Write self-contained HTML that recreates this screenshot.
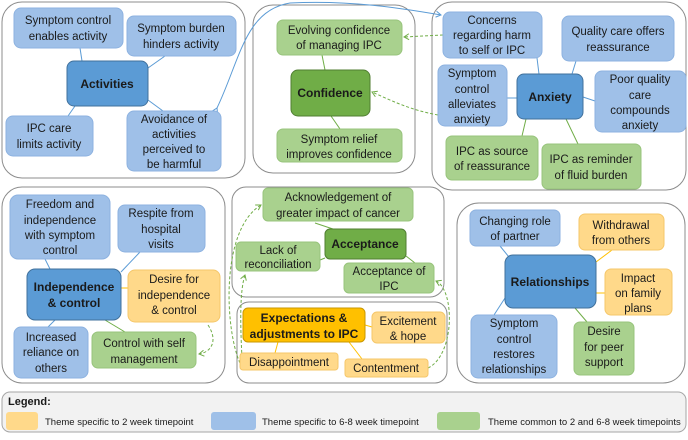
<!DOCTYPE html>
<html><head><meta charset="utf-8"><style>
body{margin:0;background:#fff;}
svg text{font-family:"Liberation Sans",sans-serif;font-size:11.5px;fill:#1a1a1a;text-anchor:middle;}
.b{fill:#9fc0e8;stroke:#8db2e0;stroke-width:1}
.bd{fill:#5b9bd5;stroke:#41719c;stroke-width:1}
.g{fill:#a9d18e;stroke:#98c47c;stroke-width:1}
.gd{fill:#70ad47;stroke:#507e32;stroke-width:1}
.o{fill:#ffd98a;stroke:#f5c76a;stroke-width:1}
.od{fill:#ffc000;stroke:#c99700;stroke-width:1}
.c{fill:none;stroke:#8c8c8c;stroke-width:1}
.bold{font-weight:bold;font-size:12px}
</style></head><body>
<svg width="688" height="435" xmlns="http://www.w3.org/2000/svg">
<defs>
<marker id="ag" markerWidth="8" markerHeight="8" refX="6" refY="4" orient="auto"><path d="M1,1 L6,4 L1,7" fill="none" stroke="#70ad47" stroke-width="1"/></marker>
<marker id="ab" markerWidth="8" markerHeight="8" refX="6" refY="4" orient="auto"><path d="M1,1 L6,4 L1,7" fill="none" stroke="#5b9bd5" stroke-width="1"/></marker>
</defs>
<!-- containers -->
<rect class="c" x="2" y="2" width="243" height="176" rx="20"/>
<rect class="c" x="253" y="5" width="162" height="168" rx="20"/>
<rect class="c" x="432" y="2" width="254" height="188" rx="20"/>
<rect class="c" x="2" y="187" width="223" height="196" rx="20"/>
<rect class="c" x="232" y="187" width="212" height="110" rx="14"/>
<rect class="c" x="237" y="302" width="210" height="81" rx="12"/>
<rect class="c" x="457" y="203" width="228" height="180" rx="22"/>
<rect x="2" y="392" width="684" height="40" rx="8" fill="#f2f2f2" stroke="#a6a6a6"/>
<!-- connectors -->
<g stroke-width="1">
<line x1="80" y1="48" x2="82" y2="61" stroke="#5b9bd5"/>
<line x1="148" y1="68" x2="165" y2="56" stroke="#5b9bd5"/>
<line x1="75" y1="106" x2="68" y2="116" stroke="#5b9bd5"/>
<line x1="148" y1="100" x2="163" y2="111" stroke="#5b9bd5"/>
<line x1="322" y1="55" x2="325" y2="70" stroke="#70ad47"/>
<line x1="331" y1="116" x2="340" y2="129" stroke="#70ad47"/>
<line x1="537" y1="58" x2="539" y2="74" stroke="#5b9bd5"/>
<line x1="576" y1="61" x2="572" y2="74" stroke="#5b9bd5"/>
<line x1="507" y1="98" x2="517" y2="98" stroke="#5b9bd5"/>
<line x1="583" y1="97" x2="595" y2="101" stroke="#5b9bd5"/>
<line x1="526" y1="119" x2="522" y2="136" stroke="#70ad47"/>
<line x1="566" y1="119" x2="578" y2="144" stroke="#70ad47"/>
<line x1="45" y1="259" x2="50" y2="269" stroke="#5b9bd5"/>
<line x1="121" y1="272" x2="140" y2="252" stroke="#5b9bd5"/>
<line x1="121" y1="288" x2="128" y2="288" stroke="#ffc000"/>
<line x1="55" y1="320" x2="48" y2="327" stroke="#5b9bd5"/>
<line x1="105" y1="320" x2="125" y2="332" stroke="#70ad47"/>
<line x1="315" y1="223" x2="333" y2="229" stroke="#70ad47"/>
<line x1="320" y1="260" x2="325" y2="258" stroke="#70ad47"/>
<line x1="406" y1="256" x2="415" y2="263" stroke="#70ad47"/>
<line x1="278" y1="342" x2="275" y2="353" stroke="#ffc000"/>
<line x1="365" y1="325" x2="372" y2="327" stroke="#ffc000"/>
<line x1="349" y1="342" x2="362" y2="359" stroke="#ffc000"/>
<line x1="500" y1="246" x2="513" y2="262" stroke="#5b9bd5"/>
<line x1="596" y1="262" x2="612" y2="250" stroke="#ffc000"/>
<line x1="596" y1="293" x2="605" y2="293" stroke="#ffc000"/>
<line x1="505" y1="298" x2="494" y2="315" stroke="#5b9bd5"/>
<line x1="575" y1="308" x2="587" y2="322" stroke="#70ad47"/>
</g>
<!-- curved arrows -->
<path d="M217,108 C240,60 245,10 290,3 C350,0 400,8 441,15" fill="none" stroke="#5b9bd5" marker-start="url(#ab)" marker-end="url(#ab)"/>
<path d="M443,35 L404,37" fill="none" stroke="#70ad47" stroke-dasharray="3,2" marker-end="url(#ag)"/>
<path d="M438,115 C410,110 390,100 372,92" fill="none" stroke="#70ad47" stroke-dasharray="3,2" marker-end="url(#ag)"/>
<path d="M208,325 C218,340 212,352 199,354" fill="none" stroke="#70ad47" stroke-dasharray="3,2" marker-end="url(#ag)"/>
<path d="M240,363 C225,330 220,230 261,205" fill="none" stroke="#70ad47" stroke-dasharray="3,2" marker-end="url(#ag)"/>
<path d="M242,358 C240,320 240,290 245,275" fill="none" stroke="#70ad47" stroke-dasharray="3,2" marker-end="url(#ag)"/>
<path d="M428,368 C455,355 455,290 436,281" fill="none" stroke="#70ad47" stroke-dasharray="3,2" marker-end="url(#ag)"/>
<!-- nodes -->
<rect class="b" x="14" y="8" width="109" height="40" rx="7"/>
<text x="68" y="24">Symptom control</text><text x="68" y="40">enables activity</text>
<rect class="b" x="127" y="16" width="109" height="40" rx="7"/>
<text x="181" y="32">Symptom burden</text><text x="181" y="48">hinders activity</text>
<rect class="bd" x="67" y="61" width="81" height="45" rx="7"/>
<text class="bold" x="107" y="88">Activities</text>
<rect class="b" x="6" y="116" width="87" height="40" rx="7"/>
<text x="49" y="132">IPC care</text><text x="49" y="148">limits activity</text>
<rect class="b" x="127" y="111" width="94" height="60" rx="7"/>
<text x="174" y="123">Avoidance of</text><text x="174" y="138">activities</text><text x="174" y="153">perceived to</text><text x="174" y="168">be harmful</text>

<rect class="g" x="277" y="20" width="125" height="35" rx="6"/>
<text x="339" y="34">Evolving confidence</text><text x="339" y="49">of managing IPC</text>
<rect class="gd" x="291" y="70" width="79" height="46" rx="7"/>
<text class="bold" x="330" y="97">Confidence</text>
<rect class="g" x="277" y="129" width="125" height="33" rx="6"/>
<text x="339" y="143">Symptom relief</text><text x="339" y="158">improves confidence</text>

<rect class="b" x="443" y="12" width="99" height="46" rx="7"/>
<text x="492" y="24">Concerns</text><text x="492" y="39">regarding harm</text><text x="492" y="54">to self or IPC</text>
<rect class="b" x="562" y="16" width="112" height="45" rx="7"/>
<text x="618" y="35">Quality care offers</text><text x="618" y="51">reassurance</text>
<rect class="b" x="438" y="65" width="69" height="61" rx="7"/>
<text x="472" y="77">Symptom</text><text x="472" y="93">control</text><text x="472" y="108">alleviates</text><text x="472" y="123">anxiety</text>
<rect class="bd" x="517" y="74" width="66" height="45" rx="7"/>
<text class="bold" x="550" y="101">Anxiety</text>
<rect class="b" x="595" y="71" width="91" height="61" rx="7"/>
<text x="640" y="83">Poor quality</text><text x="640" y="99">care</text><text x="640" y="114">compounds</text><text x="640" y="129">anxiety</text>
<rect class="g" x="446" y="136" width="92" height="44" rx="6"/>
<text x="492" y="155">IPC as source</text><text x="492" y="170">of reassurance</text>
<rect class="g" x="542" y="144" width="99" height="45" rx="6"/>
<text x="591" y="163">IPC as reminder</text><text x="591" y="179">of fluid burden</text>

<rect class="b" x="10" y="195" width="100" height="64" rx="8"/>
<text x="60" y="208">Freedom and</text><text x="60" y="224">independence</text><text x="60" y="239">with symptom</text><text x="60" y="254">control</text>
<rect class="b" x="118" y="205" width="87" height="47" rx="7"/>
<text x="161" y="217">Respite from</text><text x="161" y="233">hospital</text><text x="161" y="248">visits</text>
<rect class="bd" x="27" y="269" width="94" height="51" rx="8"/>
<text class="bold" x="74" y="291">Independence</text><text class="bold" x="74" y="307">&amp; control</text>
<rect class="o" x="128" y="270" width="92" height="52" rx="7"/>
<text x="174" y="283">Desire for</text><text x="174" y="299">independence</text><text x="174" y="314">&amp; control</text>
<rect class="b" x="14" y="327" width="74" height="51" rx="7"/>
<text x="51" y="341">Increased</text><text x="51" y="356">reliance on</text><text x="51" y="372">others</text>
<rect class="g" x="92" y="332" width="104" height="36" rx="6"/>
<text x="144" y="347">Control with self</text><text x="144" y="363">management</text>

<rect class="g" x="263" y="188" width="150" height="33" rx="5"/>
<text x="338" y="201">Acknowledgement of</text><text x="338" y="217">greater impact of cancer</text>
<rect class="gd" x="325" y="229" width="81" height="30" rx="5"/>
<text class="bold" x="365" y="248">Acceptance</text>
<rect class="g" x="236" y="242" width="84" height="29" rx="5"/>
<text x="278" y="254">Lack of</text><text x="278" y="268">reconciliation</text>
<rect class="g" x="344" y="263" width="90" height="30" rx="5"/>
<text x="389" y="275">Acceptance of</text><text x="389" y="290">IPC</text>

<rect class="od" x="243" y="308" width="122" height="34" rx="5"/>
<text class="bold" x="304" y="322">Expectations &amp;</text><text class="bold" x="304" y="338">adjustments to IPC</text>
<rect class="o" x="372" y="312" width="73" height="31" rx="5"/>
<text x="408" y="325">Excitement</text><text x="408" y="340">&amp; hope</text>
<rect class="o" x="240" y="353" width="98" height="17" rx="3"/>
<text x="289" y="366">Disappointment</text>
<rect class="o" x="345" y="359" width="83" height="18" rx="3"/>
<text x="386" y="372">Contentment</text>

<rect class="b" x="470" y="210" width="90" height="36" rx="6"/>
<text x="515" y="225">Changing role</text><text x="515" y="240">of partner</text>
<rect class="o" x="579" y="214" width="85" height="36" rx="6"/>
<text x="621" y="229">Withdrawal</text><text x="621" y="244">from others</text>
<rect class="bd" x="505" y="255" width="91" height="53" rx="8"/>
<text class="bold" x="550" y="286">Relationships</text>
<rect class="o" x="605" y="269" width="67" height="46" rx="6"/>
<text x="638" y="282">Impact</text><text x="638" y="297">on family</text><text x="638" y="312">plans</text>
<rect class="b" x="471" y="315" width="86" height="63" rx="7"/>
<text x="514" y="327">Symptom</text><text x="514" y="343">control</text><text x="514" y="358">restores</text><text x="514" y="373">relationships</text>
<rect class="g" x="574" y="322" width="60" height="53" rx="6"/>
<text x="604" y="335">Desire</text><text x="604" y="351">for peer</text><text x="604" y="366">support</text>

<text x="8" y="405" style="text-anchor:start;font-weight:bold;font-size:11px">Legend:</text>
<rect x="6" y="412" width="32" height="18" rx="3" fill="#ffd98a"/>
<text x="45" y="425" style="text-anchor:start;font-size:9.5px">Theme specific to 2 week timepoint</text>
<rect x="211" y="412" width="45" height="18" rx="3" fill="#9fc0e8"/>
<text x="262" y="425" style="text-anchor:start;font-size:9.5px">Theme specific to 6-8 week timepoint</text>
<rect x="437" y="412" width="43" height="18" rx="3" fill="#a9d18e"/>
<text x="488" y="425" style="text-anchor:start;font-size:9.5px">Theme common to 2 and 6-8 week timepoints</text>
</svg>
</body></html>
